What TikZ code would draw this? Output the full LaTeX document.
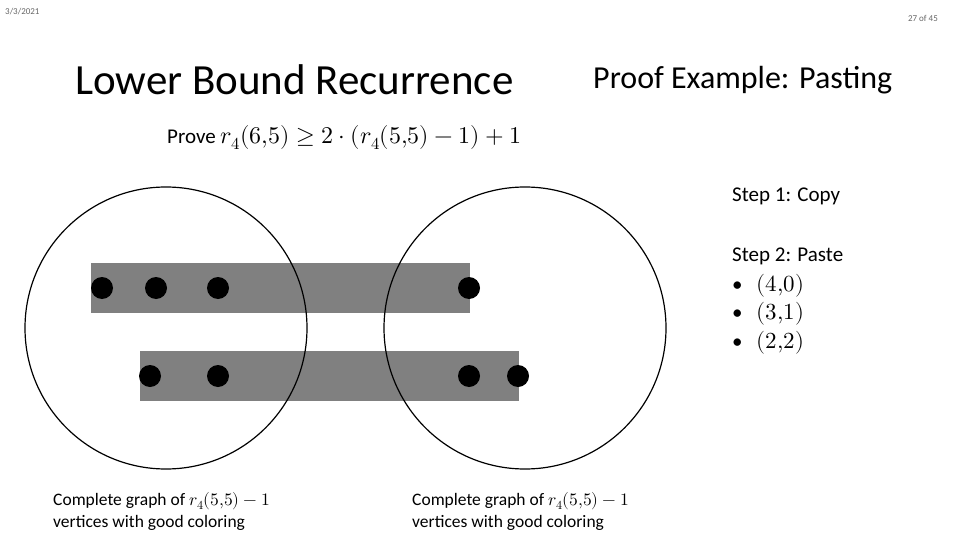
\documentclass[tikz,border=0pt]{standalone}
\usepackage{fontspec}
\setmainfont{Carlito}
\usepackage{unicode-math}
\setmathfont{Latin Modern Math}
\tikzset{dot/.style={circle,fill=black,minimum size=22pt,inner sep=0pt},
bar/.style={fill=black!50,draw=none},
ring/.style={draw=black,line width=1.2pt},
txt/.style={anchor=west,inner sep=0pt}}
\begin{document}
\begin{tikzpicture}[x=1pt,y=-1pt]
\useasboundingbox (0,0) rectangle (960,540);
\node[txt,text=black!60,font=\fontsize{9}{10}\selectfont] (date) at (5,12) {3/3/2021};
\node[anchor=east,inner sep=0pt,text=black!60,font=\fontsize{9}{10}\selectfont] (pg) at (938,18) {27 of 45};
\node[txt,font=\fontsize{43}{46}\selectfont] (t1) at (75,80) {Lower Bound Recurrence};
\node[txt,font=\fontsize{32}{36}\selectfont] (t2) at (593,80) {Proof Example: Pasting};
\node[txt,font=\fontsize{21}{24}\selectfont] (pr) at (167,138) {Prove \fontsize{24}{26}\selectfont$r_4(6{,}5)\ge 2\cdot(r_4(5{,}5)-1)+1$};
\node[txt,font=\fontsize{21}{24}\selectfont] (s1) at (732,196) {Step 1: Copy};
\node[txt,font=\fontsize{21}{24}\selectfont] (s2) at (732,256) {Step 2: Paste};
\node[txt,font=\fontsize{21}{24}\selectfont] (b1) at (732,286) {•\hspace{14pt}\fontsize{23}{24}\selectfont$(4{,}0)$};
\node[txt,font=\fontsize{21}{24}\selectfont] (b2) at (732,314) {•\hspace{14pt}\fontsize{23}{24}\selectfont$(3{,}1)$};
\node[txt,font=\fontsize{21}{24}\selectfont] (b3) at (732,343) {•\hspace{14pt}\fontsize{23}{24}\selectfont$(2{,}2)$};
\fill[bar] (91,263) rectangle (470,313);
\fill[bar] (140,351) rectangle (519,401);
\draw[ring] (166,328) circle (141);
\draw[ring] (525,328) circle (141);
\foreach \x/\n in {102/a,156/b,218/c,469/d} \node[dot] (u\n) at (\x,288) {};
\foreach \x/\n in {150/a,218/b,469/c,518/d} \node[dot] (l\n) at (\x,376) {};
\node[txt,font=\fontsize{17.5}{22}\selectfont,align=left] (c1) at (53,511) {Complete graph of $r_4(5{,}5)-1$\\vertices with good coloring};
\node[txt,font=\fontsize{17.5}{22}\selectfont,align=left] (c2) at (412,511) {Complete graph of $r_4(5{,}5)-1$\\vertices with good coloring};
\end{tikzpicture}
\end{document}
